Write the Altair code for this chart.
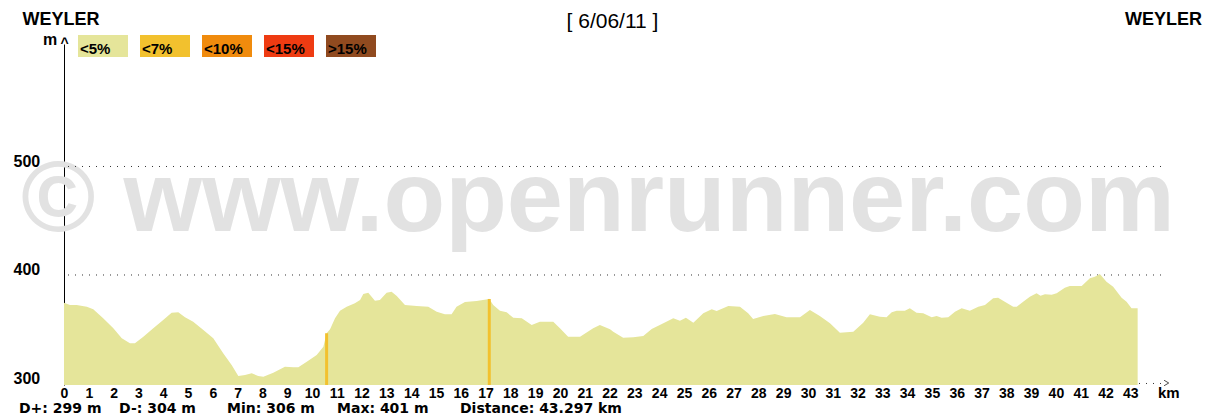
import altair as alt
import pandas as pd

# ---------------- data ----------------
km = [0, 0.24, 0.51, 0.92, 1.18, 1.58, 1.99, 2.33, 2.66, 2.86, 3.20, 3.60, 4.00, 4.34, 4.61,
      4.88, 5.21, 5.62, 6.02, 6.42, 6.76, 7.03, 7.30, 7.57, 7.83, 8.04, 8.44, 8.91, 9.25, 9.45,
      9.79, 10.19, 10.46, 10.59, 10.73, 10.93, 11.13, 11.40, 11.73, 11.94, 12.07, 12.27, 12.54,
      12.74, 13.01, 13.21, 13.42, 13.75, 14.22, 14.69, 15.03, 15.36, 15.63, 15.83, 16.17, 16.64,
      17.15, 17.31, 17.58, 17.85, 18.12, 18.46, 18.86, 19.19, 19.73, 20.00, 20.33, 20.81, 21.34,
      21.61, 22.02, 22.15, 22.55, 22.96, 23.36, 23.70, 24.17, 24.57, 24.84, 25.08, 25.38, 25.78,
      26.12, 26.32, 26.79, 27.26, 27.59, 27.79, 28.20, 28.67, 29.14, 29.68, 30.08, 30.48, 30.89,
      31.29, 31.83, 32.23, 32.50, 32.90, 33.17, 33.38, 33.58, 33.91, 34.11, 34.38, 34.65, 34.99,
      35.19, 35.39, 35.66, 35.93, 36.20, 36.53, 36.87, 37.14, 37.47, 37.67, 37.94, 38.28, 38.42,
      38.68, 38.95, 39.22, 39.38, 39.56, 39.83, 40.03, 40.36, 40.56, 41.04, 41.37, 41.57, 41.77,
      42.04, 42.31, 42.65, 42.85, 43.05, 43.21, 43.297]
elev = [374.5, 372.4, 372.4, 370.8, 368.4, 360.1, 350.9, 341.7, 337.1, 337.1, 343.1, 350.9, 358.5,
        365.3, 365.6, 361.0, 357.0, 349.3, 341.7, 327.8, 317.1, 306.9, 307.8, 309.4, 306.9, 306.3,
        310.0, 315.5, 314.9, 314.9, 320.1, 326.3, 333.9, 346.3, 350.0, 360.1, 367.0, 370.8, 373.9,
        377.0, 382.5, 383.7, 376.3, 377.0, 383.7, 384.6, 380.6, 372.4, 371.4, 370.8, 366.2, 363.8,
        363.8, 370.8, 375.1, 376.0, 377.9, 372.4, 367.1, 365.6, 360.6, 360.1, 353.9, 357.0, 357.0,
        350.9, 343.1, 343.1, 350.9, 353.9, 350.0, 347.7, 342.2, 342.6, 343.8, 350.2, 355.5, 360.1,
        357.9, 360.6, 356.0, 364.7, 368.4, 366.8, 371.4, 370.8, 364.7, 359.4, 362.2, 364.1, 361.0,
        361.0, 367.7, 362.2, 355.5, 346.8, 347.7, 356.0, 363.8, 361.6, 361.0, 365.6, 367.1, 367.1,
        369.3, 365.3, 364.7, 361.0, 362.2, 360.6, 361.0, 366.2, 369.3, 367.1, 370.8, 372.4, 378.5,
        379.1, 375.4, 370.8, 370.8, 375.4, 380.0, 383.1, 380.9, 382.2, 381.8, 383.1, 388.3, 389.9,
        389.9, 397.0, 398.4, 400.9, 393.8, 389.2, 379.1, 375.4, 369.3, 369.3, 369.3]

grade_labels = ["<5%", "<7%", "<10%", "<15%", ">15%"]
grade_colors = ["#e5e59a", "#f2c12e", "#f08b0d", "#ee3b12", "#904a1f"]
steep_km = [10.59, 17.15]
steep_elev = [346.3, 377.9]
grid_levels = [300, 400, 500]
x_ticks = list(range(44))
stats = ["D+: 299 m", "D-: 304 m", "Min: 306 m", "Max: 401 m", "Distance: 43.297 km"]
place = "WEYLER"
date_title = "[ 6/06/11 ]"
watermark = "\u00a9 www.openrunner.com"
y_unit = "m"
x_unit = "km"

# ---------------- layout ----------------
W, H = 1101, 341
X_DOM = [0, 44.4]
Y_DOM = [298.6, 612.9]
xs = alt.Scale(domain=X_DOM, nice=False, zero=False)
ys = alt.Scale(domain=Y_DOM, nice=False, zero=False)
SANS = "Liberation Sans"
WIDE = "DejaVu Sans"


def txt(s, x, y, size, weight="bold", align="left", baseline="alphabetic", font=SANS, color="#000"):
    return alt.Chart(pd.DataFrame({"t": [s]})).mark_text(
        align=align, baseline=baseline, font=font, fontSize=size, fontWeight=weight, color=color
    ).encode(x=alt.value(x), y=alt.value(y), text="t:N")


x_axis = alt.Axis(
    values=x_ticks, format="d", title=None, grid=False, domain=False, ticks=False,
    tickSize=0, labelPadding=1, labelFlush=False, labelOverlap=False, labelFont=SANS,
    labelFontSize=14, labelFontWeight="bold", labelColor="#000")
y_axis = alt.Axis(
    values=grid_levels, title=None, grid=False, domain=True, domainColor="#000",
    domainWidth=1, ticks=False, tickSize=0, labelAlign="left", labelBaseline="alphabetic",
    labelPadding=51, labelFont=SANS, labelFontSize=16, labelFontWeight="bold",
    labelColor="#000", labelFlush=False, labelOverlap=False)

layers = []

# watermark
layers.append(txt(watermark, -43, 187, 101, color="#e2e2e2"))

# dotted grid
layers.append(
    alt.Chart(pd.DataFrame({"lvl": grid_levels})).mark_rule(
        color="#333", strokeDash=[1, 6], strokeWidth=1
    ).encode(y=alt.Y("lvl:Q", scale=ys, axis=y_axis), x=alt.value(4), x2=alt.value(1101))
)

# profile
profile = pd.DataFrame({"km": km, "elev": elev})
layers.append(
    alt.Chart(profile).mark_area(color=grade_colors[0], interpolate="linear").encode(
        x=alt.X("km:Q", scale=xs, axis=x_axis),
        y=alt.Y("elev:Q", scale=ys, axis=y_axis),
        y2=alt.datum(Y_DOM[0]),
    )
)

# steeper segments (<7%)
layers.append(
    alt.Chart(pd.DataFrame({"km": steep_km, "elev": steep_elev})).mark_rule(
        color=grade_colors[1], strokeWidth=3
    ).encode(
        x=alt.X("km:Q", scale=xs, axis=x_axis),
        y=alt.Y("elev:Q", scale=ys, axis=y_axis),
        y2=alt.datum(Y_DOM[0]),
    )
)

# legend boxes
for i, (lab, col) in enumerate(zip(grade_labels, grade_colors)):
    bx = 14 + 62 * i
    layers.append(
        alt.Chart(pd.DataFrame({"t": [lab]})).mark_rect(color=col).encode(
            x=alt.value(bx), x2=alt.value(bx + 50), y=alt.value(-9), y2=alt.value(13)
        )
    )
    layers.append(txt(lab, bx + 2, 9.5, 15))

# header texts
layers.append(txt(place, -41.5, -19, 18))
layers.append(txt(place, 1138, -19, 18, align="right"))
layers.append(txt(date_title, 548.5, -15.7, 21, weight="normal", align="center"))
layers.append(txt(y_unit, -21, 1, 16))
layers.append(txt("^", 0.5, 4, 14, align="center"))

# x unit and arrow head
layers.append(txt(x_unit, 1094, 354, 15))
layers.append(
    alt.Chart(pd.DataFrame({"t": [1]})).mark_point(
        shape="M-0.7,-1L1,0L-0.7,1", filled=False, stroke="#000", strokeWidth=1, size=30
    ).encode(x=alt.value(1102), y=alt.value(339))
)

# stats
for s, sx in zip(stats, [-45, 55, 163, 273, 396]):
    layers.append(txt(s, sx, 369, 14, font=WIDE))

chart = alt.layer(*layers).properties(
    width=W, height=H,
    autosize=alt.AutoSizeParams(type="none"),
    padding={"left": 56, "top": 36, "right": 38, "bottom": 40},
    background="white",
).configure_view(strokeWidth=0)

chart.save("out.html", embed_options={"renderer": "svg", "actions": False})
